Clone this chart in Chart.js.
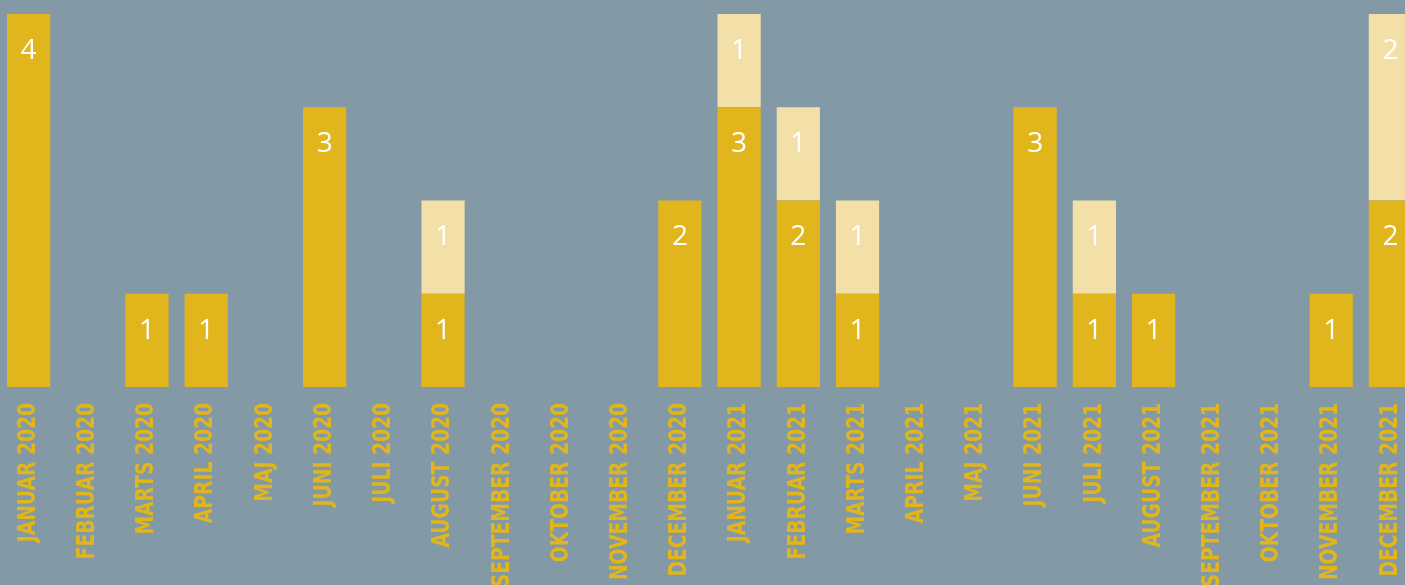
<!DOCTYPE html>
<html>
<head>
<meta charset="utf-8">
<script src="https://cdn.jsdelivr.net/npm/chart.js@4/dist/chart.umd.min.js"></script>
<style>
  html, body { margin: 0; padding: 0; background: #8399a6; overflow: hidden; }
  #clip { width: 1405px; height: 585px; position: relative; overflow: hidden; }
  #wrap { width: 1421px; height: 585px; position: absolute; left: -1px; top: 0; }
</style>
</head>
<body>
<div id="clip"><div id="wrap"><canvas id="chart"></canvas></div></div>
<script>
const months = ['JANUAR 2020', 'FEBRUAR 2020', 'MARTS 2020', 'APRIL 2020', 'MAJ 2020', 'JUNI 2020',
  'JULI 2020', 'AUGUST 2020', 'SEPTEMBER 2020', 'OKTOBER 2020', 'NOVEMBER 2020', 'DECEMBER 2020',
  'JANUAR 2021', 'FEBRUAR 2021', 'MARTS 2021', 'APRIL 2021', 'MAJ 2021', 'JUNI 2021',
  'JULI 2021', 'AUGUST 2021', 'SEPTEMBER 2021', 'OKTOBER 2021', 'NOVEMBER 2021', 'DECEMBER 2021']
const darkValues = [4, 0, 1, 1, 0, 3, 0, 1, 0, 0, 0, 2, 3, 2, 1, 0, 0, 3, 1, 1, 0, 0, 1, 2]
const lightValues = [0, 0, 0, 0, 0, 0, 0, 1, 0, 0, 0, 0, 1, 1, 1, 0, 0, 0, 1, 0, 0, 0, 0, 2]

// white numbers near the top of each segment
const barNumbers = {
  id: 'barNumbers',
  afterDatasetsDraw(chart) {
    const { ctx } = chart
    ctx.save()
    ctx.fillStyle = '#ffffff'
    ctx.font = '28px "Open Sans", sans-serif'
    ctx.textAlign = 'center'
    ctx.textBaseline = 'middle'
    chart.data.datasets.forEach((ds, i) => {
      chart.getDatasetMeta(i).data.forEach((bar, j) => {
        if (ds.data[j] > 0) ctx.fillText(String(ds.data[j]), bar.x, bar.y + 37)
      })
    })
    ctx.restore()
  }
}

// condensed vertical month labels under the bars
const monthLabels = {
  id: 'monthLabels',
  afterDraw(chart) {
    const { ctx, scales: { x } } = chart
    ctx.save()
    ctx.fillStyle = '#e1b61d'
    ctx.font = 'bold 24px "DejaVu Sans", sans-serif'
    ctx.textAlign = 'right'
    ctx.textBaseline = 'middle'
    chart.data.labels.forEach((label, i) => {
      ctx.save()
      ctx.translate(x.getPixelForTick(i), x.top + 16)
      ctx.rotate(-Math.PI / 2)
      ctx.scale(0.78, 1)
      ctx.fillText(label, 0, 0)
      ctx.restore()
    })
    ctx.restore()
  }
}

new Chart(document.getElementById('chart'), {
  type: 'bar',
  data: {
    labels: months,
    datasets: [
      { data: darkValues, backgroundColor: '#e1b61d', barPercentage: 0.73, categoryPercentage: 1 },
      { data: lightValues, backgroundColor: '#f3dfa8', barPercentage: 0.73, categoryPercentage: 1 }
    ]
  },
  options: {
    responsive: true,
    maintainAspectRatio: false,
    animation: false,
    layout: { padding: { top: 14, left: 0, right: 0, bottom: 0 } },
    plugins: { legend: { display: false }, tooltip: { enabled: false } },
    scales: {
      x: {
        stacked: true,
        grid: { display: false, drawTicks: false },
        border: { display: false },
        ticks: { display: false },
        afterFit(scale) { scale.height = 198 }
      },
      y: {
        stacked: true,
        display: false,
        min: 0,
        max: 4
      }
    }
  },
  plugins: [barNumbers, monthLabels]
})
</script>
</body>
</html>
